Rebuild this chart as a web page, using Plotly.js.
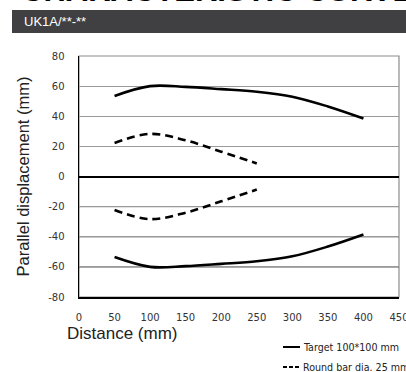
<!DOCTYPE html>
<html>
<head>
<meta charset="utf-8">
<script src="https://cdn.plot.ly/plotly-3.0.1.min.js"></script>
<style>
html,body{margin:0;padding:0;background:#fff;}
#chart{width:406px;height:372px;}
</style>
</head>
<body>
<div id="chart"></div>
<script>
// Data
const distance = [50, 100, 150, 200, 250, 300, 350, 400];
const targetUpper = [53.5, 60, 59.5, 58, 56.3, 53, 46.5, 38.5];
const targetLower = [-53.5, -60, -59.5, -58, -56.3, -53, -46.5, -38.5];
const roundDistance = [50, 100, 150, 200, 250];
const roundUpper = [22.3, 28.3, 24, 16.5, 8.7];
const roundLower = [-22.3, -28.3, -24, -16.5, -8.7];
const xTicks = [0, 50, 100, 150, 200, 250, 300, 350, 400, 450];
const yTicks = [-80, -60, -40, -20, 0, 20, 40, 60, 80];
const darkGrid = [-20, -40, -60];
const seriesNames = ['Target 100*100 mm', 'Round bar dia. 25 mm'];
const headerText = 'UK1A/**-**';
const pageTitle = 'CHARACTERISTIC CURVE';

const solid = {color: '#000', width: 2.6, shape: 'spline', smoothing: 1};
const dashed = {color: '#000', width: 2.6, shape: 'spline', smoothing: 1, dash: '8px,5px'};

const traces = [
  {x: distance, y: targetUpper, mode: 'lines', line: solid, name: seriesNames[0], showlegend: false},
  {x: distance, y: targetLower, mode: 'lines', line: solid, name: seriesNames[0], showlegend: false},
  {x: roundDistance, y: roundUpper, mode: 'lines', line: dashed, name: seriesNames[1], showlegend: false},
  {x: roundDistance, y: roundLower, mode: 'lines', line: dashed, name: seriesNames[1], showlegend: false}
];

const px2x = p => (p - 79) / 320;
const px2y = p => (297 - p) / 241;

const shapes = [
  // header bar
  {type: 'rect', xref: 'paper', yref: 'paper', x0: px2x(12), x1: px2x(410), y0: px2y(33), y1: px2y(10),
   fillcolor: '#404042', line: {width: 0}, layer: 'below'},
  // plot frame
  {type: 'rect', xref: 'paper', yref: 'paper', x0: 0, x1: 1, y0: 0, y1: 1,
   line: {color: '#8c8c8c', width: 1.2}, layer: 'below'},
  // legend swatches
  {type: 'line', xref: 'paper', yref: 'paper', x0: px2x(283), x1: px2x(300), y0: px2y(347), y1: px2y(347),
   line: {color: '#000', width: 2}},
  {type: 'line', xref: 'paper', yref: 'paper', x0: px2x(283), x1: px2x(300), y0: px2y(367), y1: px2y(367),
   line: {color: '#000', width: 2, dash: '4px,2px'}}
];
darkGrid.forEach(v => shapes.push({type: 'line', xref: 'paper', yref: 'y', x0: 0, x1: 1, y0: v, y1: v,
  line: {color: '#222', width: 1}, layer: 'below'}));

const annotations = [
  {text: '<b>' + pageTitle + '</b>', xref: 'paper', yref: 'paper', x: px2x(19), y: px2y(10),
   xanchor: 'left', yanchor: 'bottom', showarrow: false,
   font: {family: 'Liberation Sans, Arial, sans-serif', size: 31, color: '#000'}},
  {text: headerText, xref: 'paper', yref: 'paper', x: px2x(22), y: px2y(21.5),
   xanchor: 'left', yanchor: 'middle', showarrow: false,
   font: {family: 'Liberation Sans, Arial, sans-serif', size: 13, color: '#fff'}},
  {text: 'Distance (mm)', xref: 'paper', yref: 'paper', x: px2x(65), y: px2y(333),
   xanchor: 'left', yanchor: 'middle', showarrow: false,
   font: {family: 'Liberation Sans, Arial, sans-serif', size: 17, color: '#222'}},
  {text: seriesNames[0], xref: 'paper', yref: 'paper', x: px2x(301), y: px2y(347),
   xanchor: 'left', yanchor: 'middle', showarrow: false,
   font: {family: 'DejaVu Sans Condensed, DejaVu Sans, sans-serif', size: 10.6, color: '#222'}},
  {text: seriesNames[1], xref: 'paper', yref: 'paper', x: px2x(301), y: px2y(367),
   xanchor: 'left', yanchor: 'middle', showarrow: false,
   font: {family: 'DejaVu Sans Condensed, DejaVu Sans, sans-serif', size: 10.6, color: '#222'}}
];

const layout = {
  width: 406, height: 372,
  margin: {l: 79, r: 7, t: 56, b: 75, pad: 0},
  paper_bgcolor: '#fff', plot_bgcolor: 'rgba(0,0,0,0)',
  showlegend: false,
  font: {family: 'DejaVu Sans, sans-serif', color: '#333'},
  xaxis: {
    range: [0, 450], tickvals: xTicks, ticktext: xTicks.map(String),
    showgrid: false, zeroline: false,
    showline: true, linecolor: '#000', linewidth: 1.5,
    ticks: '', ticklabelstandoff: 10, ticklabeloverflow: 'allow',
    tickfont: {family: 'DejaVu Sans, sans-serif', size: 10, color: '#333'},
    fixedrange: true
  },
  yaxis: {
    range: [-80, 80], tickvals: yTicks, ticktext: yTicks.map(String),
    showgrid: true, gridcolor: '#9a9a9a', gridwidth: 1,
    zeroline: true, zerolinecolor: '#000', zerolinewidth: 2,
    showline: true, linecolor: '#000', linewidth: 1.5,
    ticks: '', ticklabelstandoff: 11,
    tickfont: {family: 'DejaVu Sans, sans-serif', size: 10, color: '#333'},
    title: {text: 'Parallel displacement (mm)', standoff: 14,
            font: {family: 'Liberation Sans, Arial, sans-serif', size: 16.5, color: '#222'}},
    automargin: false,
    fixedrange: true
  },
  shapes: shapes,
  annotations: annotations
};

Plotly.newPlot('chart', traces, layout, {displayModeBar: false, staticPlot: true});
</script>
</body>
</html>
